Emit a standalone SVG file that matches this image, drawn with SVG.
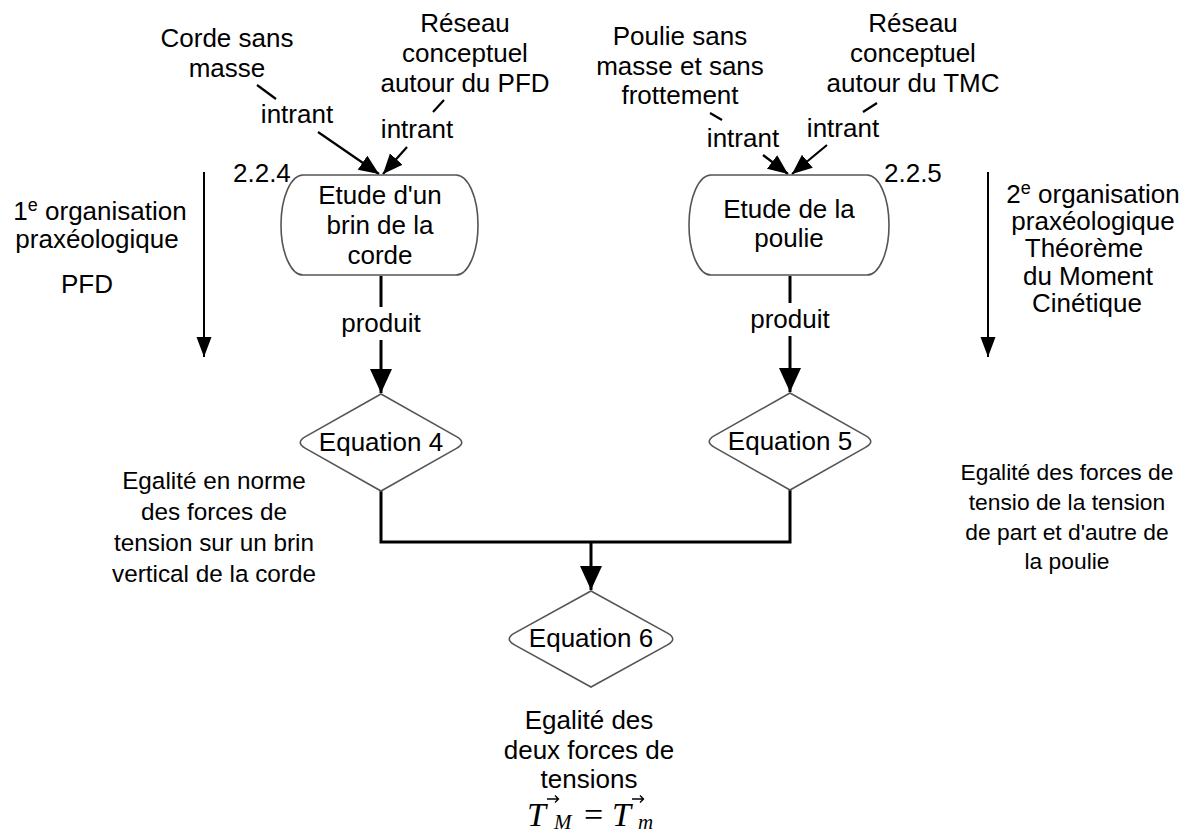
<svg xmlns="http://www.w3.org/2000/svg" width="1191" height="834" viewBox="0 0 1191 834">
<style>
text{font-family:"Liberation Sans",Arial,Helvetica,sans-serif;font-size:26px;fill:#000;text-anchor:middle}
.st{text-anchor:start}
.al{font-size:24.3px}
.ar{font-size:22.8px}
.node{fill:#fff;stroke:#555;stroke-width:1.6}
.c{fill:none;stroke:#000;stroke-width:3}
.ci{fill:none;stroke:#000;stroke-width:2.2}
.side{fill:none;stroke:#000;stroke-width:2}
.math{font-family:"Liberation Serif","Times New Roman",serif;font-style:italic;font-size:34px}
.sub{font-family:"Liberation Serif","Times New Roman",serif;font-style:italic;font-size:21px}
.eq{font-family:"Liberation Serif","Times New Roman",serif;font-size:34px}
</style>
<defs>
<marker id="ab" markerUnits="userSpaceOnUse" markerWidth="26" markerHeight="24" refX="24" refY="11" orient="auto"><path d="M0,0 L24,11 L0,22 Z" fill="#000"/></marker>
<marker id="ai" markerUnits="userSpaceOnUse" markerWidth="22" markerHeight="20" refX="20" refY="8.5" orient="auto"><path d="M0,0 L20,8.5 L0,17 Z" fill="#000"/></marker>
<marker id="as" markerUnits="userSpaceOnUse" markerWidth="22" markerHeight="18" refX="20" refY="7.5" orient="auto"><path d="M0,0 L20,7.5 L0,15 Z" fill="#000"/></marker>
</defs>
<rect width="1191" height="834" fill="#fff"/>

<g id="connectors">
<path class="ci" d="M257,85 L276,99"/>
<path class="ci" d="M318,132 L379,174" marker-end="url(#ai)"/>
<path class="ci" d="M444,100 L433,112"/>
<path class="ci" d="M407,147 L383,174" marker-end="url(#ai)"/>
<path class="ci" d="M710,113 L722,120"/>
<path class="ci" d="M763,155 L788,174" marker-end="url(#ai)"/>
<path class="ci" d="M877,103 L863,112"/>
<path class="ci" d="M827,145 L792,174" marker-end="url(#ai)"/>
<path class="c" d="M381,276 L381,307"/>
<path class="c" d="M381,340 L381,393" marker-end="url(#ab)"/>
<path class="c" d="M790,276 L790,303"/>
<path class="c" d="M790,336 L790,392" marker-end="url(#ab)"/>
<path class="c" d="M381,491 L381,542 L790,542 L790,490"/>
<path class="c" d="M591,542 L591,590" marker-end="url(#ab)"/>
<path class="side" d="M204,172 L204,357" marker-end="url(#as)"/>
<path class="side" d="M988,172 L988,357" marker-end="url(#as)"/>
</g>

<g id="input-labels">
<text x="227" y="47">Corde sans</text>
<text x="227" y="77">masse</text>
<text x="465" y="32">Réseau</text>
<text x="465" y="62">conceptuel</text>
<text x="465" y="92">autour du PFD</text>
<text x="680" y="45">Poulie sans</text>
<text x="680" y="75">masse et sans</text>
<text x="680" y="104">frottement</text>
<text x="913" y="32">Réseau</text>
<text x="913" y="62">conceptuel</text>
<text x="913" y="92">autour du TMC</text>
<text x="297" y="123">intrant</text>
<text x="417" y="138">intrant</text>
<text x="743" y="147">intrant</text>
<text x="843" y="137">intrant</text>
<text x="381" y="332">produit</text>
<text x="790" y="328">produit</text>
</g>

<g id="node-224">
<path class="node" d="M303,175 H456 A22,50 0 0 1 456,275 H303 A22,50 0 0 1 303,175 Z"/>
<text x="380" y="204">Etude d'un</text>
<text x="380" y="234">brin de la</text>
<text x="380" y="264">corde</text>
<text class="st" x="233" y="182">2.2.4</text>
</g>

<g id="node-225">
<path class="node" d="M711,175 H867 A22,50 0 0 1 867,275 H711 A22,50 0 0 1 711,175 Z"/>
<text x="789" y="218">Etude de la</text>
<text x="789" y="247">poulie</text>
<text class="st" x="884" y="182">2.2.5</text>
</g>

<g id="eq4">
<path class="node" d="M381,394 L456.5,436.6 Q467,442.5 456.5,448.4 L381,491 L305.5,448.4 Q295,442.5 305.5,436.6 Z"/>
<text x="381" y="451">Equation 4</text>
<text class="al" x="214" y="489">Egalité en norme</text>
<text class="al" x="214" y="520">des forces de</text>
<text class="al" x="214" y="551">tension sur un brin</text>
<text class="al" x="214" y="582">vertical de la corde</text>
</g>

<g id="eq5">
<path class="node" d="M790,393 L865.5,435.6 Q876,441.5 865.5,447.4 L790,490 L714.5,447.4 Q704,441.5 714.5,435.6 Z"/>
<text x="790" y="450">Equation 5</text>
<text class="ar" x="1067" y="480">Egalité des forces de</text>
<text class="ar" x="1067" y="510">tensio de la tension</text>
<text class="ar" x="1067" y="540">de part et d'autre de</text>
<text class="ar" x="1067" y="569">la poulie</text>
</g>

<g id="eq6">
<path class="node" d="M591,591 L667.5,633.1 Q678,639 667.5,644.9 L591,687 L514.5,644.9 Q504,639 514.5,633.1 Z"/>
<text x="591" y="647">Equation 6</text>
<text x="589" y="729">Egalité des</text>
<text x="589" y="759">deux forces de</text>
<text x="589" y="788">tensions</text>
<text class="math st" x="527" y="826">T</text>
<text class="sub st" x="554" y="829">M</text>
<text class="eq st" x="584" y="826">=</text>
<text class="math st" x="612" y="826">T</text>
<text class="sub st" x="638" y="829">m</text>
<path d="M547,799 L558,799 M555,795.5 L558.5,799 L555,802.5" fill="none" stroke="#000" stroke-width="1.4"/>
<path d="M632,799 L643,799 M640,795.5 L643.5,799 L640,802.5" fill="none" stroke="#000" stroke-width="1.4"/>
</g>

<g id="org1">
<text x="100" y="220">1<tspan font-size="18" dy="-9">e</tspan><tspan dy="9"> organisation</tspan></text>
<text x="97" y="248">praxéologique</text>
<text x="87" y="293">PFD</text>
</g>

<g id="org2">
<text x="1093" y="203">2<tspan font-size="18" dy="-9">e</tspan><tspan dy="9"> organisation</tspan></text>
<text x="1093" y="230">praxéologique</text>
<text x="1084" y="257">Théorème</text>
<text x="1088" y="285">du Moment</text>
<text x="1087" y="312">Cinétique</text>
</g>
</svg>
